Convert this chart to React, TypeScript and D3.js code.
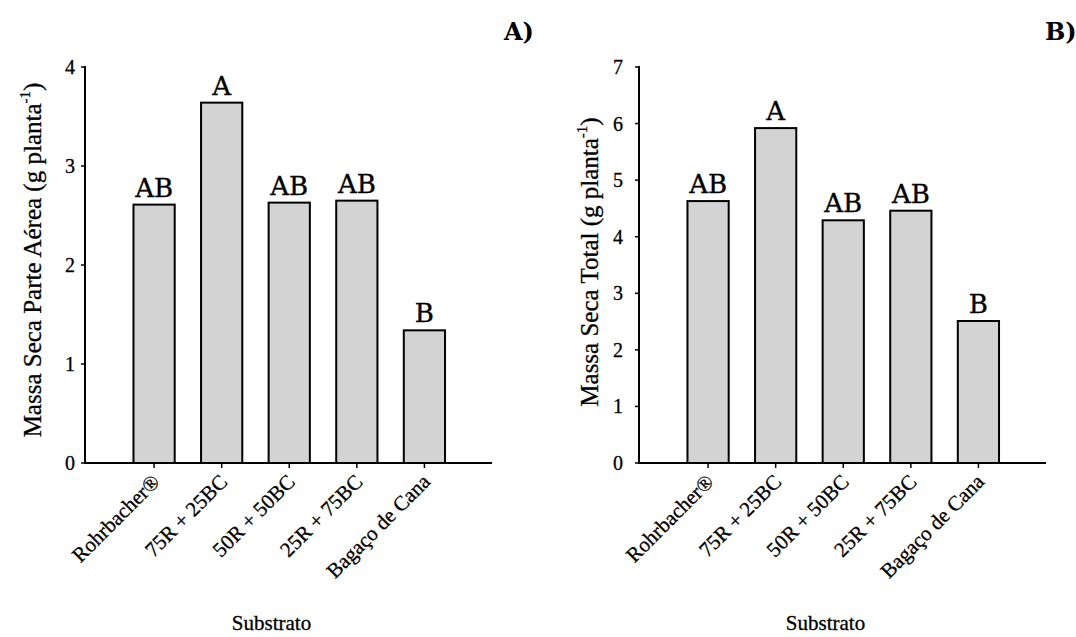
import React from "react";
import * as d3 from "d3";

const categories = ["Rohrbacher®", "75R + 25BC", "50R + 50BC", "25R + 75BC", "Bagaço de Cana"];
const valuesA = [2.61, 3.64, 2.63, 2.65, 1.34];
const valuesB = [4.63, 5.92, 4.29, 4.46, 2.51];
const lettersA = ["AB", "A", "AB", "AB", "B"];
const lettersB = ["AB", "A", "AB", "AB", "B"];
const yTicksA = [0, 1, 2, 3, 4];
const yTicksB = [0, 1, 2, 3, 4, 5, 6, 7];
const xTitle = "Substrato";

const SERIF = "'Liberation Serif', 'Times New Roman', serif";
const LETTER_FONT = "'DejaVu Serif', serif";

type PanelProps = {
  values: number[];
  letters: string[];
  yTicks: number[];
  yMax: number;
  x0: number;
  x1: number;
  labelGap: number;
  titleX: number;
  titleY: number;
  titleMain: string;
  panelTag: string;
  tagX: number;
};

function Panel(p: PanelProps) {
  const yBase = 463;
  const yTop = 67;
  const y = d3.scaleLinear().domain([0, p.yMax]).range([yBase, yTop]);
  const x = d3.scalePoint<string>().domain(categories).range([p.x0 + 1.5, p.x1]).padding(1);
  const bw = x.step() * 0.61;
  return (
    <g>
      {categories.map((c, i) => (
        <rect
          key={c}
          x={(x(c) as number) - bw / 2}
          y={y(p.values[i])}
          width={bw}
          height={yBase - y(p.values[i])}
          fill="#d3d3d3"
          stroke="#000"
          strokeWidth={2}
        />
      ))}
      {categories.map((c, i) => (
        <text
          key={"l" + c}
          x={x(c) as number}
          y={y(p.values[i]) - 8}
          textAnchor="middle"
          fontFamily={LETTER_FONT}
          fontSize={26}
          fill="#000"
          stroke="#000"
          strokeWidth={0.4}
        >
          {p.letters[i]}
        </text>
      ))}
      <line x1={p.x0} x2={p.x0} y1={yBase + 1} y2={yTop - 1} stroke="#000" strokeWidth={2} />
      <line x1={p.x0 - 1} x2={p.x1} y1={yBase} y2={yBase} stroke="#000" strokeWidth={2} />
      {p.yTicks.map((t) => (
        <g key={"yt" + t}>
          <line x1={p.x0 - 4} x2={p.x0} y1={y(t)} y2={y(t)} stroke="#000" strokeWidth={1.5} />
          <text
            x={p.x0 - p.labelGap}
            y={y(t)}
            dy="0.35em"
            textAnchor="end"
            fontFamily={SERIF}
            fontSize={20}
            fill="#000"
            stroke="#000"
            strokeWidth={0.3}
          >
            {t}
          </text>
        </g>
      ))}
      {categories.map((c) => (
        <g key={"xt" + c}>
          <line x1={x(c) as number} x2={x(c) as number} y1={yBase} y2={yBase + 5} stroke="#000" strokeWidth={1.5} />
          <text
            transform={`translate(${(x(c) as number) + 7},${yBase + 20}) rotate(-45)`}
            textAnchor="end"
            fontFamily={SERIF}
            fontSize={21}
            fill="#000"
            stroke="#000"
            strokeWidth={0.3}
          >
            {c}
          </text>
        </g>
      ))}
      <text
        transform={`translate(${p.titleX},${p.titleY}) rotate(-90)`}
        textAnchor="middle"
        dy="0.35em"
        fontFamily={SERIF}
        fontSize={25}
        fill="#000"
        stroke="#000"
        strokeWidth={0.3}
      >
        {p.titleMain}
        <tspan fontSize={15} dy="-0.75em">-1</tspan>
        <tspan dy="0.45em">)</tspan>
      </text>
      <text
        x={(p.x0 + p.x1) / 2 - 17}
        y={630}
        textAnchor="middle"
        fontFamily={SERIF}
        fontSize={21}
        fill="#000"
        stroke="#000"
        strokeWidth={0.3}
      >
        {xTitle}
      </text>
      <text x={p.tagX} y={40} fontFamily={LETTER_FONT} fontWeight="bold" fontSize={24} fill="#000">
        {p.panelTag}
      </text>
    </g>
  );
}

export default function App() {
  return (
    <svg
      width={1076}
      height={637}
      viewBox="0 0 1076 637"
      style={{ position: "absolute", left: 0, top: 0, background: "#fff" }}
    >
      <rect x={0} y={0} width={1076} height={637} fill="#fff" />
      <Panel
        values={valuesA}
        letters={lettersA}
        yTicks={yTicksA}
        yMax={4}
        x0={85}
        x1={492}
        labelGap={10}
        titleX={32}
        titleY={260}
        titleMain="Massa Seca Parte Aérea (g planta"
        panelTag="A)"
        tagX={504}
      />
      <Panel
        values={valuesB}
        letters={lettersB}
        yTicks={yTicksB}
        yMax={7}
        x0={639}
        x1={1046}
        labelGap={16}
        titleX={589}
        titleY={262}
        titleMain="Massa Seca Total (g planta"
        panelTag="B)"
        tagX={1045}
      />
    </svg>
  );
}
